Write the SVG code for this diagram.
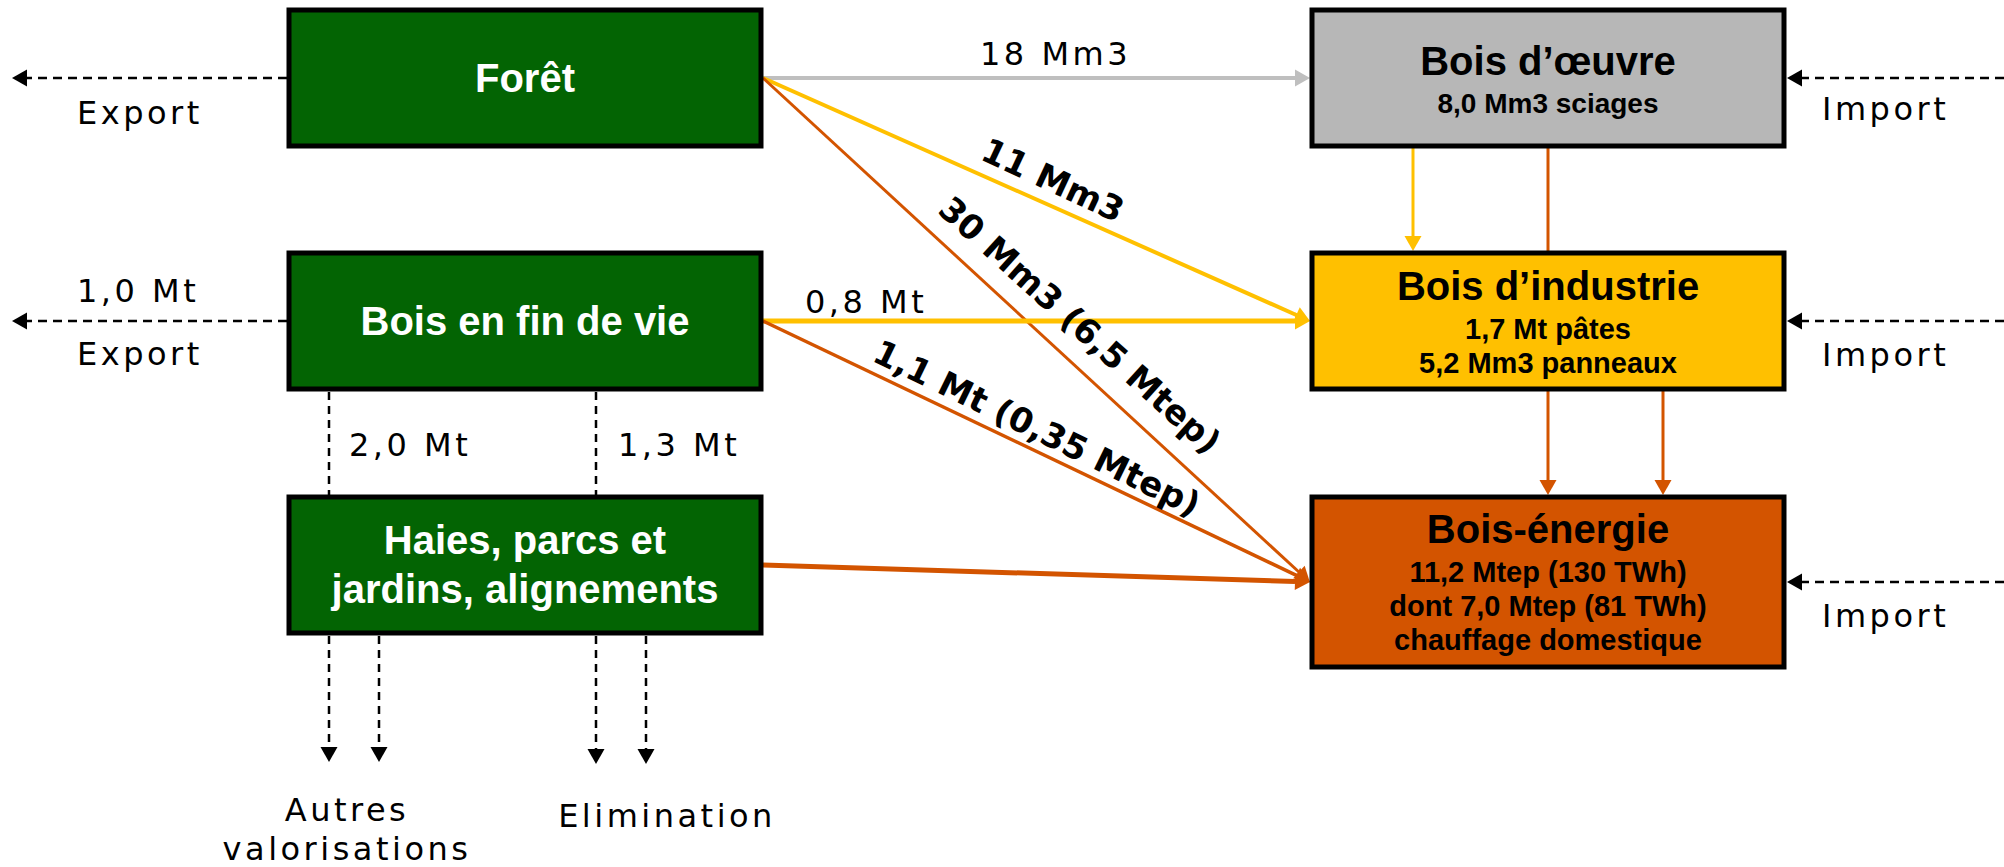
<svg xmlns="http://www.w3.org/2000/svg" width="2004" height="867" viewBox="0 0 2004 867">
<style>
.box{stroke:#000;stroke-width:5}
.green{fill:#036403}
.t-w{font-family:"Liberation Sans",Arial,sans-serif;font-weight:bold;fill:#fff;text-anchor:middle}
.t-b{font-family:"Liberation Sans",Arial,sans-serif;font-weight:bold;fill:#000;text-anchor:middle}
.lbl{font-family:"DejaVu Sans",Verdana,sans-serif;font-size:32px;letter-spacing:3.5px;fill:#000}
.rot{font-family:"DejaVu Sans",Verdana,sans-serif;font-size:34px;font-weight:bold;fill:#000;text-anchor:middle}
.dash{stroke:#000;stroke-width:2.5;stroke-dasharray:9,6;fill:none}
.vdash{stroke:#000;stroke-width:2.5;stroke-dasharray:8,6;fill:none}
</style>
<defs>
<marker id="aBlk" markerUnits="userSpaceOnUse" markerWidth="16" markerHeight="18" refX="0" refY="8.5" orient="auto" overflow="visible"><path d="M0,0 L15,8.5 L0,17 z" fill="#000"/></marker>
<marker id="aGry" markerUnits="userSpaceOnUse" markerWidth="16" markerHeight="18" refX="0" refY="8.5" orient="auto" overflow="visible"><path d="M0,0 L15,8.5 L0,17 z" fill="#BFBFBF"/></marker>
<marker id="aYel" markerUnits="userSpaceOnUse" markerWidth="16" markerHeight="18" refX="0" refY="8.5" orient="auto" overflow="visible"><path d="M0,0 L15,8.5 L0,17 z" fill="#FFC000"/></marker>
<marker id="aOra" markerUnits="userSpaceOnUse" markerWidth="16" markerHeight="18" refX="0" refY="8.5" orient="auto" overflow="visible"><path d="M0,0 L15,8.5 L0,17 z" fill="#D35400"/></marker>
</defs>
<rect width="2004" height="867" fill="#fff"/>

<g id="connectors" fill="none">
  <line x1="763" y1="78" x2="1295" y2="78" stroke="#BFBFBF" stroke-width="4" marker-end="url(#aGry)"/>
  <line x1="763" y1="78" x2="1296.3" y2="315" stroke="#FFC000" stroke-width="4" marker-end="url(#aYel)"/>
  <line x1="763" y1="78" x2="1298.9" y2="572" stroke="#D35400" stroke-width="3" marker-end="url(#aOra)"/>
  <line x1="763" y1="321" x2="1295" y2="321" stroke="#FFC000" stroke-width="5" marker-end="url(#aYel)"/>
  <line x1="763" y1="321" x2="1296.4" y2="575.4" stroke="#D35400" stroke-width="3.5" marker-end="url(#aOra)"/>
  <line x1="763" y1="565" x2="1295" y2="581.5" stroke="#D35400" stroke-width="5" marker-end="url(#aOra)"/>
  <line x1="1413" y1="148" x2="1413" y2="236" stroke="#FFC000" stroke-width="3" marker-end="url(#aYel)"/>
  <line x1="1548" y1="148" x2="1548" y2="252" stroke="#D35400" stroke-width="3"/>
  <line x1="1548" y1="391" x2="1548" y2="480" stroke="#D35400" stroke-width="3" marker-end="url(#aOra)"/>
  <line x1="1663" y1="391" x2="1663" y2="480" stroke="#D35400" stroke-width="3" marker-end="url(#aOra)"/>
  <!-- exports -->
  <line class="dash" x1="287" y1="78" x2="27" y2="78" marker-end="url(#aBlk)"/>
  <line class="dash" x1="287" y1="321" x2="27" y2="321" marker-end="url(#aBlk)"/>
  <!-- imports -->
  <line class="dash" x1="2004" y1="78" x2="1802" y2="78" marker-end="url(#aBlk)"/>
  <line class="dash" x1="2004" y1="321" x2="1802" y2="321" marker-end="url(#aBlk)"/>
  <line class="dash" x1="2004" y1="582" x2="1802" y2="582" marker-end="url(#aBlk)"/>
  <!-- vertical dashed -->
  <line class="vdash" x1="329" y1="392" x2="329" y2="495"/>
  <line class="vdash" x1="596" y1="392" x2="596" y2="495"/>
  <line class="vdash" x1="329" y1="636" x2="329" y2="747" marker-end="url(#aBlk)"/>
  <line class="vdash" x1="379" y1="636" x2="379" y2="747" marker-end="url(#aBlk)"/>
  <line class="vdash" x1="596" y1="636" x2="596" y2="749" marker-end="url(#aBlk)"/>
  <line class="vdash" x1="646" y1="636" x2="646" y2="749" marker-end="url(#aBlk)"/>
</g>

<g id="labels">
  <text class="lbl" x="980" y="65">18 Mm3</text>
  <text class="lbl" x="805" y="313">0,8 Mt</text>
  <text class="lbl" x="77" y="124">Export</text>
  <text class="lbl" x="77" y="302">1,0 Mt</text>
  <text class="lbl" x="77" y="365">Export</text>
  <text class="lbl" x="1822" y="120">Import</text>
  <text class="lbl" x="1822" y="366">Import</text>
  <text class="lbl" x="1822" y="627">Import</text>
  <text class="lbl" x="349" y="456">2,0 Mt</text>
  <text class="lbl" x="618" y="456">1,3 Mt</text>
  <text class="lbl" x="347" y="821" text-anchor="middle">Autres</text>
  <text class="lbl" x="347" y="860" text-anchor="middle">valorisations</text>
  <text class="lbl" x="667" y="827" text-anchor="middle">Elimination</text>
  <text class="rot" transform="translate(1053,180) rotate(25)" y="12">11 Mm3</text>
  <text class="rot" transform="translate(1080,325) rotate(42)" y="12">30 Mm3 (6,5 Mtep)</text>
  <text class="rot" transform="translate(1037,428) rotate(26)" y="12">1,1 Mt (0,35 Mtep)</text>
</g>

<g id="foret">
  <rect class="box green" x="289" y="10" width="472" height="136"/>
  <text class="t-w" x="525" y="92" font-size="40">Forêt</text>
</g>
<g id="bois-fin-de-vie">
  <rect class="box green" x="289" y="253" width="472" height="136"/>
  <text class="t-w" x="525" y="335" font-size="40">Bois en fin de vie</text>
</g>
<g id="haies">
  <rect class="box green" x="289" y="497" width="472" height="136"/>
  <text class="t-w" x="525" y="554" font-size="40">Haies, parcs et</text>
  <text class="t-w" x="525" y="603" font-size="40">jardins, alignements</text>
</g>
<g id="bois-oeuvre">
  <rect class="box" fill="#B7B7B7" x="1312" y="10" width="472" height="136"/>
  <text class="t-b" x="1548" y="75" font-size="40">Bois d’œuvre</text>
  <text class="t-b" x="1548" y="113" font-size="28">8,0 Mm3 sciages</text>
</g>
<g id="bois-industrie">
  <rect class="box" fill="#FFC000" x="1312" y="253" width="472" height="136"/>
  <text class="t-b" x="1548" y="300" font-size="40">Bois d’industrie</text>
  <text class="t-b" x="1548" y="339" font-size="29">1,7 Mt pâtes</text>
  <text class="t-b" x="1548" y="373" font-size="29">5,2 Mm3 panneaux</text>
</g>
<g id="bois-energie">
  <rect class="box" fill="#D35400" x="1312" y="497" width="472" height="170"/>
  <text class="t-b" x="1548" y="543" font-size="40">Bois-énergie</text>
  <text class="t-b" x="1548" y="582" font-size="29">11,2 Mtep (130 TWh)</text>
  <text class="t-b" x="1548" y="616" font-size="29">dont 7,0 Mtep (81 TWh)</text>
  <text class="t-b" x="1548" y="650" font-size="29">chauffage domestique</text>
</g>
</svg>
